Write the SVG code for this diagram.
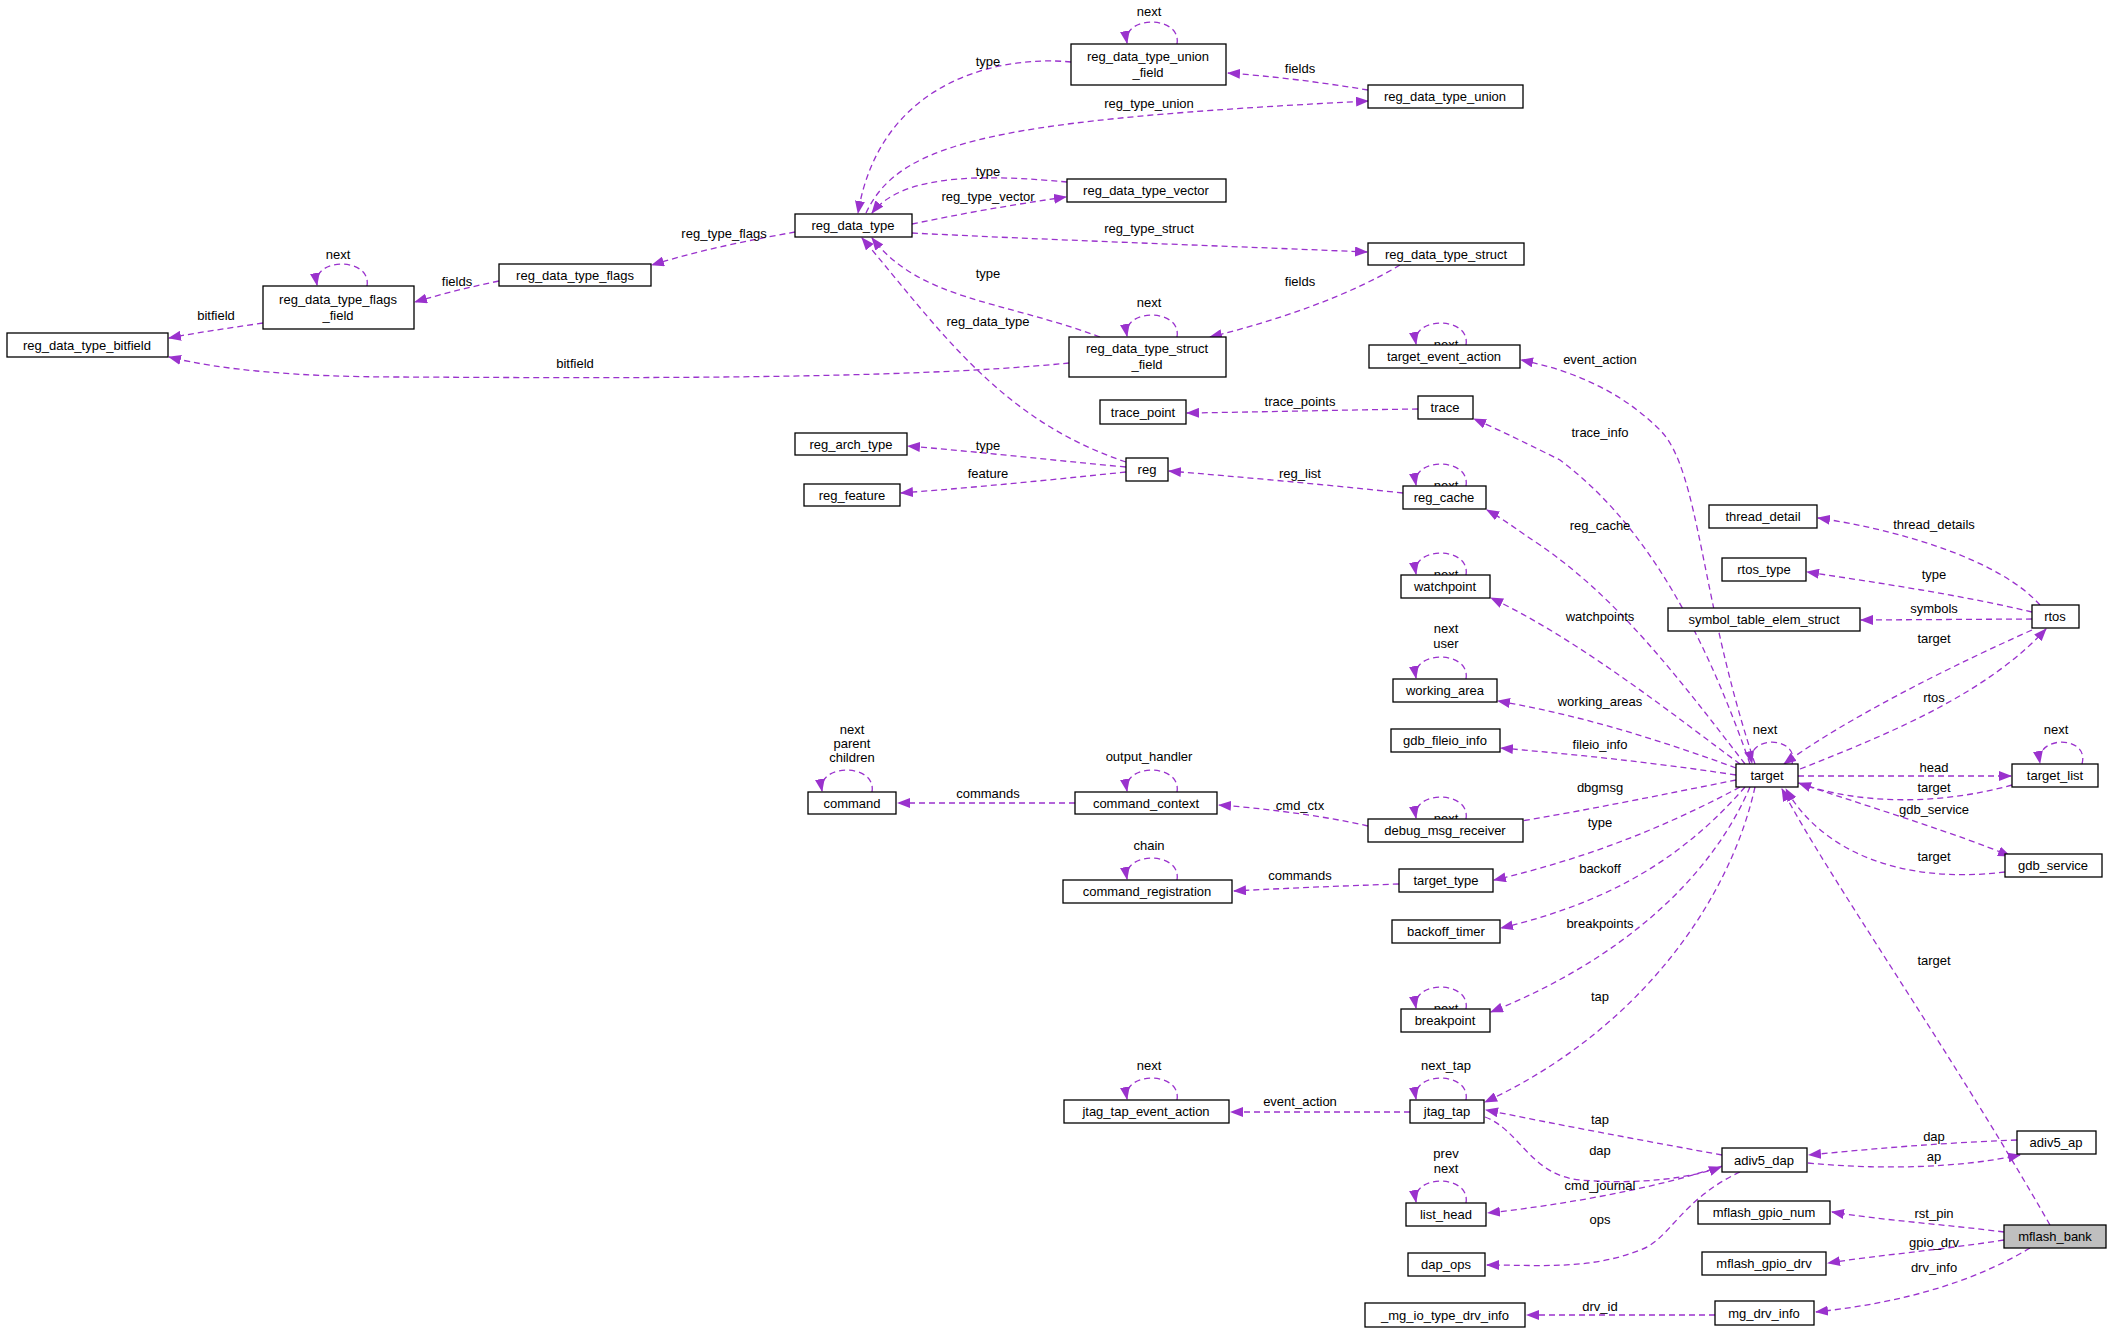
<svg xmlns="http://www.w3.org/2000/svg" width="2113" height="1335" viewBox="0 0 2113 1335">
<style>
.n rect{fill:#fff;stroke:#000;stroke-width:1.3}
.n text,.l{font-family:"Liberation Sans",Arial,sans-serif;font-size:13px;text-anchor:middle;fill:#000}
.e path{fill:none;stroke:#9a32cd;stroke-width:1.3;stroke-dasharray:6,4;marker-end:url(#a)}
</style>
<defs><marker id="a" markerUnits="userSpaceOnUse" markerWidth="13" markerHeight="10" refX="12" refY="5" orient="auto"><path d="M0,0L13,5L0,10z" fill="#9a32cd"/></marker></defs>
<rect width="2113" height="1335" fill="#fff"/>
<g class="e" id="edges">
<path d="M1071,62C1000,55 880,80 858,213"/>
<path d="M1368,90C1320,82 1270,76 1228,73"/>
<path d="M866,213C900,140 1000,120 1368,101"/>
<path d="M1067,182C1000,176 905,170 872,213"/>
<path d="M912,224C960,214 1010,205 1066,197"/>
<path d="M912,233C1050,240 1200,245 1367,252"/>
<path d="M1400,265C1350,295 1280,320 1210,337"/>
<path d="M1100,337C1000,300 920,300 872,238"/>
<path d="M1069,363C900,380 600,378 400,377C300,377 220,370 169,357"/>
<path d="M263,323C230,328 200,332 169,338"/>
<path d="M499,281C470,287 445,293 415,302"/>
<path d="M795,232C750,240 700,250 652,265"/>
<path d="M1126,462C1000,420 940,330 862,238"/>
<path d="M1126,467C1050,460 980,452 908,446"/>
<path d="M1126,472C1050,480 980,487 901,493"/>
<path d="M1403,493C1320,484 1240,477 1169,471"/>
<path d="M1418,409C1340,410 1260,412 1187,413"/>
<path d="M1755,764C1700,600 1700,470 1660,430C1620,390 1570,370 1521,360"/>
<path d="M1750,764C1700,620 1640,520 1560,460C1520,440 1495,428 1474,419"/>
<path d="M1745,764C1680,680 1620,600 1540,545C1520,532 1505,520 1487,510"/>
<path d="M1740,764C1680,720 1580,640 1491,598"/>
<path d="M1736,768C1660,740 1580,715 1498,701"/>
<path d="M1736,775C1650,762 1580,755 1501,748"/>
<path d="M1736,780C1660,795 1580,812 1490,826"/>
<path d="M1740,787C1660,830 1580,860 1494,880"/>
<path d="M1745,787C1690,850 1620,900 1501,928"/>
<path d="M1750,787C1710,880 1620,960 1491,1012"/>
<path d="M1755,787C1730,900 1640,1030 1485,1102"/>
<path d="M1792,764C1800,735 1745,735 1752,763"/>
<path d="M2040,605C2000,560 1900,530 1818,518"/>
<path d="M2032,612C1960,595 1880,583 1807,572"/>
<path d="M2032,619L1861,620"/>
<path d="M2032,630C1920,680 1830,730 1784,764"/>
<path d="M1800,769C1900,730 1990,690 2046,629"/>
<path d="M1798,776L2011,776"/>
<path d="M2012,785C1940,805 1860,805 1799,783"/>
<path d="M2082,764C2090,735 2035,735 2040,763"/>
<path d="M1798,783C1880,810 1960,835 2010,856"/>
<path d="M2005,872C1900,885 1820,850 1786,789"/>
<path d="M2050,1225C1950,1050 1830,880 1782,789"/>
<path d="M1368,826C1320,815 1260,808 1219,805"/>
<path d="M1075,803L898,803"/>
<path d="M1399,884C1340,886 1290,888 1234,891"/>
<path d="M1410,1112L1231,1112"/>
<path d="M1722,1155C1640,1140 1560,1125 1486,1110"/>
<path d="M1485,1117C1520,1130 1530,1175 1580,1180C1640,1185 1690,1178 1721,1167"/>
<path d="M1722,1166C1650,1190 1560,1205 1488,1213"/>
<path d="M1740,1172C1680,1200 1670,1240 1640,1250C1590,1270 1540,1265 1487,1265"/>
<path d="M2017,1140C1940,1143 1880,1148 1809,1155"/>
<path d="M1808,1163C1880,1170 1960,1168 2020,1155"/>
<path d="M2004,1232C1950,1225 1880,1220 1832,1212"/>
<path d="M2004,1240C1940,1250 1880,1255 1828,1263"/>
<path d="M2030,1248C1960,1290 1880,1305 1816,1312"/>
<path d="M1715,1315L1527,1315"/>
<path d="M1177,44C1182,15 1122,15 1127,43"/>
<path d="M1177,337C1182,308 1122,308 1127,336"/>
<path d="M367,286C372,257 312,257 317,285"/>
<path d="M1466,345C1471,316 1411,316 1416,344"/>
<path d="M1466,486C1471,457 1411,457 1416,485"/>
<path d="M1466,575C1471,546 1411,546 1416,574"/>
<path d="M1466,679C1471,650 1411,650 1416,678"/>
<path d="M1466,819C1471,790 1411,790 1416,818"/>
<path d="M1466,1009C1471,980 1411,980 1416,1008"/>
<path d="M1466,1100C1471,1071 1411,1071 1416,1099"/>
<path d="M1466,1203C1471,1174 1411,1174 1416,1202"/>
<path d="M872,792C877,763 817,763 822,791"/>
<path d="M1177,792C1182,763 1122,763 1127,791"/>
<path d="M1177,880C1182,851 1122,851 1127,879"/>
<path d="M1177,1100C1182,1071 1122,1071 1127,1099"/>
</g>
<g id="labels">
<text class="l" x="988" y="66">type</text><text class="l" x="1149" y="16">next</text>
<text class="l" x="1300" y="73">fields</text><text class="l" x="1149" y="108">reg_type_union</text>
<text class="l" x="988" y="176">type</text><text class="l" x="988" y="201">reg_type_vector</text>
<text class="l" x="1149" y="233">reg_type_struct</text><text class="l" x="1300" y="286">fields</text>
<text class="l" x="988" y="278">type</text><text class="l" x="1149" y="307">next</text>
<text class="l" x="575" y="368">bitfield</text><text class="l" x="216" y="320">bitfield</text>
<text class="l" x="338" y="259">next</text><text class="l" x="457" y="286">fields</text>
<text class="l" x="724" y="238">reg_type_flags</text><text class="l" x="988" y="326">reg_data_type</text>
<text class="l" x="988" y="450">type</text><text class="l" x="988" y="478">feature</text>
<text class="l" x="1300" y="478">reg_list</text><text class="l" x="1300" y="406">trace_points</text>
<text class="l" x="1600" y="364">event_action</text><text class="l" x="1600" y="437">trace_info</text>
<text class="l" x="1600" y="530">reg_cache</text><text class="l" x="1600" y="621">watchpoints</text>
<text class="l" x="1600" y="706">working_areas</text><text class="l" x="1600" y="749">fileio_info</text>
<text class="l" x="1600" y="792">dbgmsg</text><text class="l" x="1600" y="827">type</text>
<text class="l" x="1600" y="873">backoff</text><text class="l" x="1600" y="928">breakpoints</text>
<text class="l" x="1600" y="1001">tap</text><text class="l" x="1765" y="734">next</text>
<text class="l" x="1934" y="529">thread_details</text><text class="l" x="1934" y="579">type</text>
<text class="l" x="1934" y="613">symbols</text><text class="l" x="1934" y="643">target</text>
<text class="l" x="1934" y="702">rtos</text><text class="l" x="1934" y="772">head</text>
<text class="l" x="1934" y="792">target</text><text class="l" x="2056" y="734">next</text>
<text class="l" x="1934" y="814">gdb_service</text><text class="l" x="1934" y="861">target</text>
<text class="l" x="1934" y="965">target</text>
<text class="l" x="1300" y="810">cmd_ctx</text><text class="l" x="988" y="798">commands</text>
<text class="l" x="852" y="734">next</text><text class="l" x="852" y="748">parent</text><text class="l" x="852" y="762">children</text>
<text class="l" x="1149" y="761">output_handler</text>
<text class="l" x="1300" y="880">commands</text><text class="l" x="1149" y="850">chain</text>
<text class="l" x="1300" y="1106">event_action</text><text class="l" x="1149" y="1070">next</text>
<text class="l" x="1446" y="1070">next_tap</text>
<text class="l" x="1600" y="1124">tap</text><text class="l" x="1600" y="1155">dap</text>
<text class="l" x="1600" y="1190">cmd_journal</text><text class="l" x="1600" y="1224">ops</text>
<text class="l" x="1446" y="1158">prev</text><text class="l" x="1446" y="1173">next</text>
<text class="l" x="1934" y="1141">dap</text><text class="l" x="1934" y="1161">ap</text>
<text class="l" x="1934" y="1218">rst_pin</text><text class="l" x="1934" y="1247">gpio_drv</text>
<text class="l" x="1934" y="1272">drv_info</text><text class="l" x="1600" y="1311">drv_id</text>
<text class="l" x="1446" y="349">next</text><text class="l" x="1446" y="490">next</text>
<text class="l" x="1446" y="579">next</text><text class="l" x="1446" y="633">next</text><text class="l" x="1446" y="648">user</text>
<text class="l" x="1446" y="823">next</text><text class="l" x="1446" y="1013">next</text>
</g>
<g class="n" id="n1"><rect x="7" y="333" width="161" height="24"/><text x="87" y="350">reg_data_type_bitfield</text></g>
<g class="n" id="n2"><rect x="263" y="286" width="151" height="43"/><text x="338" y="304">reg_data_type_flags</text><text x="338" y="320">_field</text></g>
<g class="n" id="n3"><rect x="499" y="264" width="152" height="22"/><text x="575" y="280">reg_data_type_flags</text></g>
<g class="n" id="n4"><rect x="795" y="214" width="117" height="23"/><text x="853" y="230">reg_data_type</text></g>
<g class="n" id="n5"><rect x="1071" y="44" width="155" height="41"/><text x="1148" y="61">reg_data_type_union</text><text x="1148" y="77">_field</text></g>
<g class="n" id="n6"><rect x="1368" y="85" width="155" height="23"/><text x="1445" y="101">reg_data_type_union</text></g>
<g class="n" id="n7"><rect x="1067" y="179" width="159" height="23"/><text x="1146" y="195">reg_data_type_vector</text></g>
<g class="n" id="n8"><rect x="1368" y="243" width="156" height="22"/><text x="1446" y="259">reg_data_type_struct</text></g>
<g class="n" id="n9"><rect x="1069" y="337" width="157" height="40"/><text x="1147" y="353">reg_data_type_struct</text><text x="1147" y="369">_field</text></g>
<g class="n" id="n10"><rect x="1369" y="345" width="151" height="23"/><text x="1444" y="361">target_event_action</text></g>
<g class="n" id="n11"><rect x="1100" y="400" width="86" height="24"/><text x="1143" y="417">trace_point</text></g>
<g class="n" id="n12"><rect x="1418" y="396" width="55" height="23"/><text x="1445" y="412">trace</text></g>
<g class="n" id="n13"><rect x="795" y="433" width="112" height="22"/><text x="851" y="449">reg_arch_type</text></g>
<g class="n" id="n14"><rect x="804" y="484" width="96" height="22"/><text x="852" y="500">reg_feature</text></g>
<g class="n" id="n15"><rect x="1126" y="458" width="42" height="23"/><text x="1147" y="474">reg</text></g>
<g class="n" id="n16"><rect x="1403" y="486" width="83" height="23"/><text x="1444" y="502">reg_cache</text></g>
<g class="n" id="n17"><rect x="1401" y="575" width="89" height="23"/><text x="1445" y="591">watchpoint</text></g>
<g class="n" id="n18"><rect x="1393" y="679" width="104" height="23"/><text x="1445" y="695">working_area</text></g>
<g class="n" id="n19"><rect x="1391" y="729" width="109" height="23"/><text x="1445" y="745">gdb_fileio_info</text></g>
<g class="n" id="n20"><rect x="1368" y="819" width="155" height="23"/><text x="1445" y="835">debug_msg_receiver</text></g>
<g class="n" id="n21"><rect x="1399" y="869" width="94" height="23"/><text x="1446" y="885">target_type</text></g>
<g class="n" id="n22"><rect x="1392" y="920" width="108" height="23"/><text x="1446" y="936">backoff_timer</text></g>
<g class="n" id="n23"><rect x="1401" y="1009" width="89" height="23"/><text x="1445" y="1025">breakpoint</text></g>
<g class="n" id="n24"><rect x="1410" y="1100" width="74" height="23"/><text x="1447" y="1116">jtag_tap</text></g>
<g class="n" id="n25"><rect x="1406" y="1203" width="80" height="23"/><text x="1446" y="1219">list_head</text></g>
<g class="n" id="n26"><rect x="1408" y="1253" width="77" height="23"/><text x="1446" y="1269">dap_ops</text></g>
<g class="n" id="n27"><rect x="1365" y="1303" width="160" height="24"/><text x="1445" y="1320">_mg_io_type_drv_info</text></g>
<g class="n" id="n28"><rect x="808" y="792" width="88" height="22"/><text x="852" y="808">command</text></g>
<g class="n" id="n29"><rect x="1075" y="792" width="142" height="22"/><text x="1146" y="808">command_context</text></g>
<g class="n" id="n30"><rect x="1063" y="880" width="169" height="23"/><text x="1147" y="896">command_registration</text></g>
<g class="n" id="n31"><rect x="1064" y="1100" width="165" height="23"/><text x="1146" y="1116">jtag_tap_event_action</text></g>
<g class="n" id="n32"><rect x="1709" y="505" width="108" height="23"/><text x="1763" y="521">thread_detail</text></g>
<g class="n" id="n33"><rect x="1722" y="558" width="84" height="23"/><text x="1764" y="574">rtos_type</text></g>
<g class="n" id="n34"><rect x="1668" y="608" width="192" height="23"/><text x="1764" y="624">symbol_table_elem_struct</text></g>
<g class="n" id="n35"><rect x="2032" y="605" width="47" height="23"/><text x="2055" y="621">rtos</text></g>
<g class="n" id="n36"><rect x="1736" y="764" width="62" height="23"/><text x="1767" y="780">target</text></g>
<g class="n" id="n37"><rect x="2012" y="764" width="86" height="23"/><text x="2055" y="780">target_list</text></g>
<g class="n" id="n38"><rect x="2005" y="854" width="97" height="23"/><text x="2053" y="870">gdb_service</text></g>
<g class="n" id="n39"><rect x="2017" y="1131" width="79" height="23"/><text x="2056" y="1147">adiv5_ap</text></g>
<g class="n" id="n40"><rect x="1722" y="1148" width="85" height="24"/><text x="1764" y="1165">adiv5_dap</text></g>
<g class="n" id="n41"><rect x="1698" y="1201" width="132" height="23"/><text x="1764" y="1217">mflash_gpio_num</text></g>
<g class="n" id="n42"><rect x="2004" y="1225" width="102" height="23" style="fill:#bfbfbf"/><text x="2055" y="1241">mflash_bank</text></g>
<g class="n" id="n43"><rect x="1702" y="1252" width="124" height="23"/><text x="1764" y="1268">mflash_gpio_drv</text></g>
<g class="n" id="n44"><rect x="1715" y="1301" width="99" height="24"/><text x="1764" y="1318">mg_drv_info</text></g>
</svg>
